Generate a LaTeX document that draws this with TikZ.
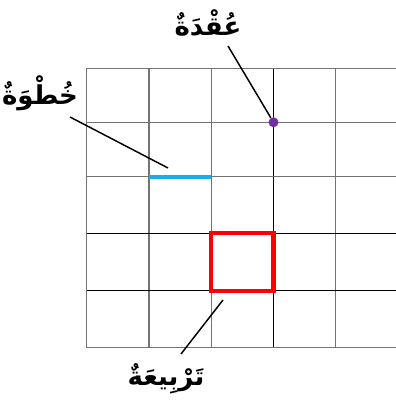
\documentclass[tikz,border=0pt]{standalone}
\usepackage{fontspec}
\newfontfamily\arabicfont[Script=Arabic]{DejaVu Sans}
\TeXXeTstate=1
\usetikzlibrary{positioning,calc}
\definecolor{stepblue}{HTML}{1AAEE6}
\definecolor{dotpurple}{HTML}{7030A0}
\tikzset{
  gline/.style ={draw=black!55, line width=1pt},
  dline/.style ={draw=black, line width=0.8pt},
  lbl/.style   ={font=\arabicfont\bfseries\fontsize{19.5}{23}\selectfont, inner sep=0pt},
  lead/.style  ={draw=black, line width=1.1pt},
  stepline/.style={draw=stepblue, line width=2.8pt},
  sq/.style    ={draw=red, line width=3.2pt},
  dot/.style   ={circle, fill=dotpurple, inner sep=0pt, minimum size=7.5pt},
}

\begin{document}
\begin{tikzpicture}[x=0.75pt, y=-0.75pt]
  \useasboundingbox (0,0) rectangle (396,414);

  % ---- grid ----------------------------------------------------------
  \foreach \gx in {86.7,149,211.3,335.8}
    \draw[gline] (\gx,68.3) -- (\gx,347.7);
  \draw[dline] (273.5,68.3) -- (273.5,347.7);
  \foreach \gy in {68.3,122.3,176.7,347.7}
    \draw[gline] (86.7,\gy) -- (396,\gy);
  \foreach \gy in {233.3,290.7}
    \draw[dline] (86.7,\gy) -- (396,\gy);

  % ---- marked parts --------------------------------------------------
  \coordinate (stepA) at (149,176.7);
  \coordinate (stepB) at (211.3,176.7);
  \draw[stepline] (stepA) -- (stepB);
  \coordinate (sqA) at (211.3,233.3);
  \coordinate (sqB) at (273.5,290.7);
  \draw[sq] (sqA) rectangle (sqB);
  \node[dot] (knot) at (273.5,122.3) {};

  % ---- labels --------------------------------------------------------
  \node[lbl] (uqda) at (208,23) {\beginR عُقْدَةٌ\endR};
  \node[lbl] (khatwa) at (40,93) {\beginR خُطْوَةٌ\endR};
  \node[lbl] (tarbia) at (166,379) {\beginR تَرْبِيعَةٌ\endR};

  \coordinate (uqdaTip) at (228,46);
  \coordinate (khatwaTip) at (70,117);
  \coordinate (khatwaEnd) at (168,168);
  \coordinate (tarbiaTip) at (181,354);
  \coordinate (tarbiaEnd) at (223,300);

  \draw[lead] (uqdaTip) -- (knot);
  \draw[lead] (khatwaTip) -- (khatwaEnd);
  \draw[lead] (tarbiaTip) -- (tarbiaEnd);
\end{tikzpicture}
\end{document}
